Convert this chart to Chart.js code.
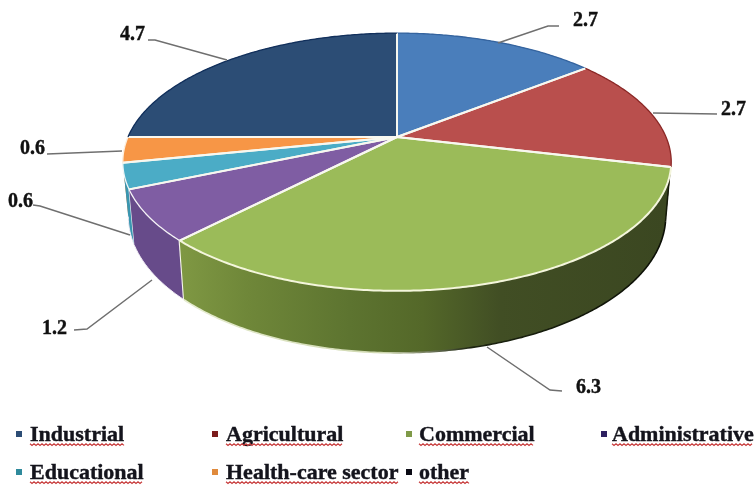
<!DOCTYPE html>
<html>
<head>
<meta charset="utf-8">
<style>
html,body{margin:0;padding:0;background:#fff;}
canvas{display:block;filter:blur(0.35px);}
</style>
<script src="https://cdn.jsdelivr.net/npm/chart.js@4"></script>
</head>
<body>
<canvas id="c" width="756" height="486"></canvas>
<script>
const categories = ["Industrial","Agricultural","Commercial","Administrative","Educational","Health-care sector","other"];
const values = [2.7,2.7,6.3,1.2,0.6,0.6,4.7];
const topColors = ["#4a7ebb","#b94f4d","#9bbb59","#7f5da3","#4bacc6","#f79646","#2c4d75"];
const wallColors = ["#3a6496","#8f3c3a","#5f7632","#674b8a","#3a96b0","#c87833","#223c5c"];
const rimColors = ["#35649f","#8c2a28","#f4f6dc","#f4f2f6","#eef6f8","#fdf0e0","#12305c"];
const legendColors = ["#2c4d75","#7b1c1c","#7f9a48","#2e2060","#2f8a9c","#e08a3c","#0a0a14"];

// layout of the perspective disc
const G = {cx:397, y0:137, rx:269, ry:124, k:0.194, bottomScale:0.98, d0:52, d1:10};
// outside-label layout: [label x, label baseline y, leader polyline]
const labelLayout = [
  [573,26,[[498,43],[548,26],[559,26]]],
  [721,115,[[653,113],[717,114]]],
  [576,393,[[487,347],[550,390],[562,391]]],
  [42,334,[[152,280],[87,329],[74,330]]],
  [8,207,[[130,235],[40,206],[33,205]]],
  [20,154,[[122,151],[47,154]]],
  [120,40,[[227,60],[155,40],[148,40]]]
];
const legendLayout = [[16,30,441],[212,226,441],[406,419,441],[601,612,441],[16,30,479],[212,226,479],[406,419,479]];

function topPt(a){
  const u=Math.cos(a), v=Math.sin(a), w=1-G.k*v;
  return [G.cx+G.rx*u/w, G.y0+G.ry*v/w];
}
function botPt(a){
  const p=topPt(a), v=Math.sin(a);
  return [G.cx+(p[0]-G.cx)*G.bottomScale, p[1]+G.d0+G.d1*v];
}
function arcPts(f,a0,a1){
  const n=Math.max(2,Math.ceil(Math.abs(a1-a0)/0.01)), pts=[];
  for(let i=0;i<=n;i++) pts.push(f(a0+(a1-a0)*i/n));
  return pts;
}
function path(ctx,pts){
  pts.forEach((p,i)=> i?ctx.lineTo(p[0],p[1]):ctx.moveTo(p[0],p[1]));
}
function extend(ctx,pts){
  pts.forEach(p=>ctx.lineTo(p[0],p[1]));
}

const pie3d = {
  id:'pie3d',
  beforeDatasetsDraw(chart){
    const ctx=chart.ctx, arcs=chart.getDatasetMeta(0).data;
    ctx.save();
    ctx.lineJoin='round';
    // walls
    const order=[0,1,6,5,4,3,2];
    order.forEach(i=>{
      const a=arcs[i];
      const t=arcPts(topPt,a.startAngle,a.endAngle), b=arcPts(botPt,a.startAngle,a.endAngle);
      ctx.beginPath(); path(ctx,t); extend(ctx,b.slice().reverse()); ctx.closePath();
      if(i===2){
        const g=ctx.createLinearGradient(180,0,665,0);
        g.addColorStop(0,'#7f9843'); g.addColorStop(.14,'#6f8739'); g.addColorStop(.35,'#5d7430');
        g.addColorStop(.5,'#546829'); g.addColorStop(.66,'#414e24'); g.addColorStop(1,'#3b4721');
        ctx.fillStyle=g;
      } else ctx.fillStyle=wallColors[i];
      ctx.fill();
      // lower edge
      ctx.beginPath(); path(ctx,b);
      if(i===2){
        const g=ctx.createLinearGradient(180,0,665,0);
        g.addColorStop(0,'#e6ecd0'); g.addColorStop(.42,'#cfd8b0'); g.addColorStop(.6,'#1c2410'); g.addColorStop(1,'#0c0f06');
        ctx.strokeStyle=g; ctx.lineWidth=1.6;
      } else { ctx.strokeStyle='#efeaf4'; ctx.lineWidth=1; }
      ctx.stroke();
      if(i===3){ // seam between purple and green walls
        const p=topPt(a.startAngle), q=botPt(a.startAngle);
        ctx.beginPath(); ctx.moveTo(p[0],p[1]); ctx.lineTo(q[0],q[1]);
        ctx.strokeStyle='#f6f6ee'; ctx.lineWidth=2.2; ctx.stroke();
      }
      if(i===4){
        const p=topPt(a.startAngle), q=botPt(a.startAngle);
        ctx.beginPath(); ctx.moveTo(p[0],p[1]); ctx.lineTo(q[0],q[1]);
        ctx.strokeStyle='#eef4f6'; ctx.lineWidth=1.2; ctx.stroke();
      }
    });
    // right silhouette
    const eA=arcs[1].endAngle, e1=topPt(eA), e2=botPt(eA);
    ctx.beginPath(); ctx.moveTo(e1[0]-1,e1[1]+3); ctx.lineTo(e2[0],e2[1]);
    ctx.strokeStyle='#151a0a'; ctx.lineWidth=1.5; ctx.stroke();
    // top faces
    arcs.forEach((a,i)=>{
      const t=arcPts(topPt,a.startAngle,a.endAngle);
      ctx.beginPath(); ctx.moveTo(G.cx,G.y0); extend(ctx,t); ctx.closePath();
      ctx.fillStyle=topColors[i]; ctx.fill();
    });
    arcs.forEach((a,i)=>{
      const t=arcPts(topPt,a.startAngle,a.endAngle);
      ctx.beginPath(); ctx.moveTo(t[t.length-1][0],t[t.length-1][1]); ctx.lineTo(G.cx,G.y0); ctx.lineTo(t[0][0],t[0][1]);
      ctx.strokeStyle='#f8f8f0'; ctx.lineWidth=2; ctx.stroke();
      ctx.beginPath(); path(ctx,t);
      ctx.strokeStyle=rimColors[i]; ctx.lineWidth=i===2?2:1.3; ctx.stroke();
    });
    ctx.restore();
    return false;
  },
  afterDraw(chart){
    const ctx=chart.ctx;
    ctx.save();
    // leaders and value labels
    ctx.textBaseline='alphabetic'; ctx.textAlign='left';
    values.forEach((val,i)=>{
      const [lx,ly,line]=labelLayout[i];
      ctx.beginPath(); path(ctx,line);
      ctx.strokeStyle='#6f6f6f'; ctx.lineWidth=1.5; ctx.stroke();
      ctx.fillStyle='#111'; ctx.strokeStyle='#111'; ctx.lineWidth=0.4;
      ctx.font='bold 20px "Liberation Serif"';
      ctx.fillText(val.toFixed(1),lx,ly);
      ctx.strokeText(val.toFixed(1),lx,ly);
    });
    // legend
    categories.forEach((name,i)=>{
      const [sx,tx,by]=legendLayout[i];
      ctx.fillStyle=legendColors[i];
      ctx.fillRect(sx,by-10,6,6);
      ctx.font='bold 22px "Liberation Serif"';
      ctx.fillStyle='#14141c'; ctx.strokeStyle='#14141c'; ctx.lineWidth=0.4;
      ctx.fillText(name,tx,by);
      ctx.strokeText(name,tx,by);
      const w=ctx.measureText(name).width;
      ctx.beginPath();
      for(let x=0,j=0;x<=w;x+=2,j++){
        const y=by+3+(j%2?1.4:-0.2);
        j?ctx.lineTo(tx+x,y):ctx.moveTo(tx+x,y);
      }
      ctx.strokeStyle='#c83c3c'; ctx.lineWidth=1.2; ctx.stroke();
    });
    ctx.restore();
  }
};

new Chart(document.getElementById('c'),{
  type:'pie',
  data:{labels:categories,datasets:[{data:values,backgroundColor:topColors,borderWidth:0}]},
  options:{
    responsive:false,animation:false,
    plugins:{legend:{display:false},tooltip:{enabled:false}}
  },
  plugins:[pie3d]
});
</script>
</body>
</html>
